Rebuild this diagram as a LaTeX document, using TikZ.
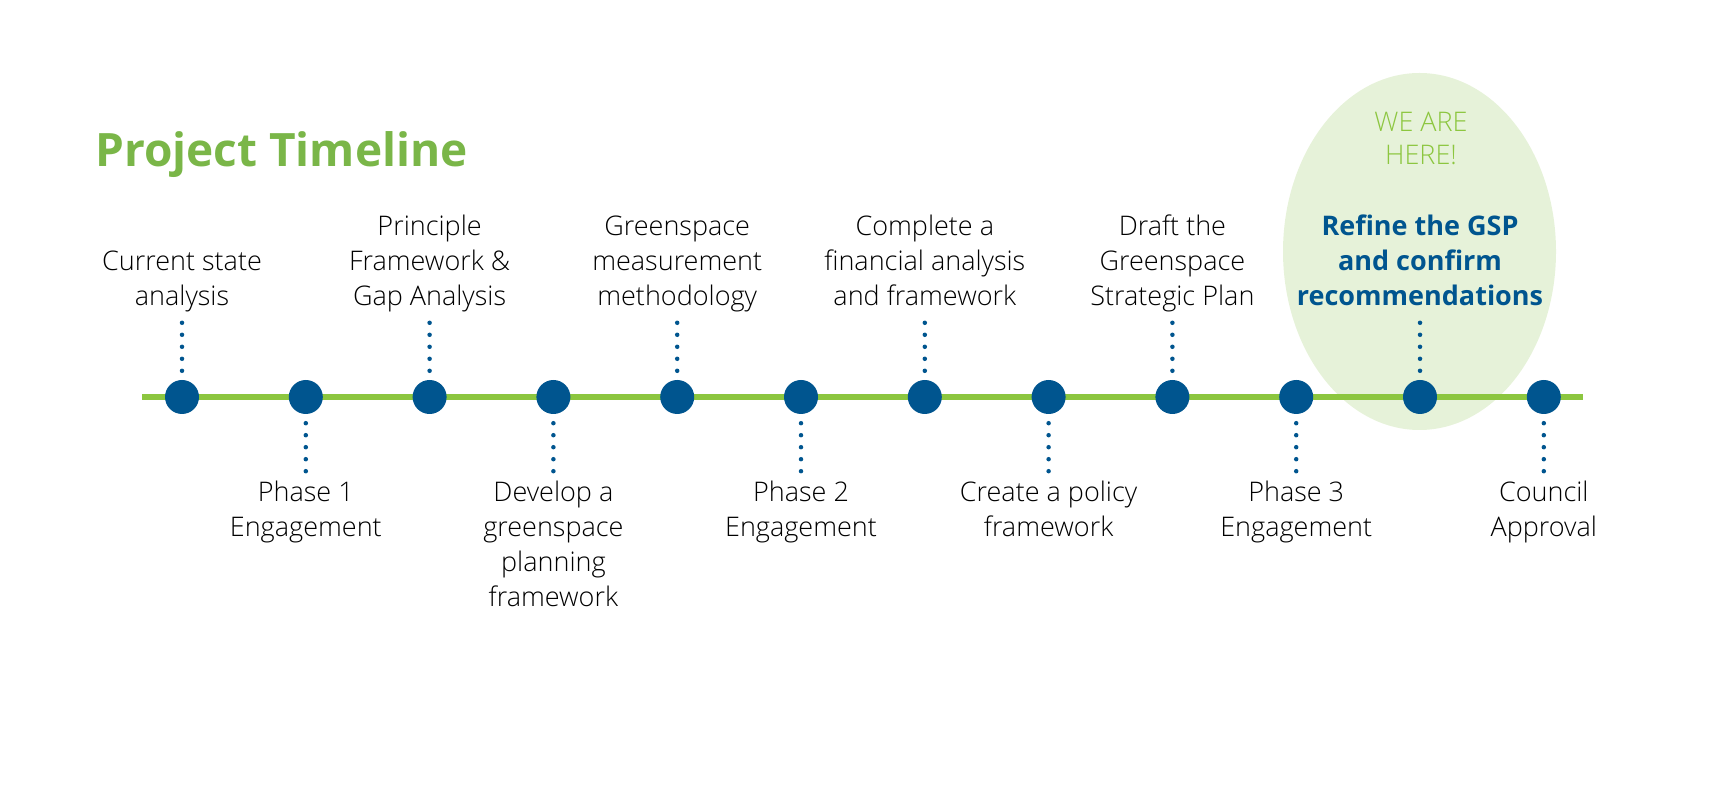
\documentclass[tikz,border=0pt]{standalone}
\usepackage{fontspec}
\setmainfont{Open Sans}[UprightFont={* Light},BoldFont={* Bold}]
\usetikzlibrary{positioning,shapes.geometric}

\definecolor{leafgreen}{HTML}{7AB648}
\definecolor{linegreen}{HTML}{8CC63F}
\definecolor{palegreen}{HTML}{E6F2D9}
\definecolor{navy}{HTML}{00558F}

\begin{document}
\begin{tikzpicture}[
  x=1pt, y=1pt,
  node distance=89.4pt,
  milestone/.style={circle, fill=navy, minimum size=34pt, inner sep=0pt},
  stage/.style={align=center, inner sep=0pt, font=\fontsize{27}{35}\selectfont},
  upper/.style={stage, text depth=7pt},
  current/.style={upper, text=navy, font=\fontsize{27}{35}\selectfont\bfseries},
  leader/.style={navy, line width=4.5pt, line cap=round,
                 dash pattern=on 0pt off 12pt, shorten <=10pt, shorten >=7pt},
  track/.style={linegreen, line width=5.5pt}
]
  \useasboundingbox (0,0) rectangle (1728,792);

  \node[ellipse, fill=palegreen, minimum width=273pt, minimum height=357pt] (bubble) at (1419.5,540.5) {};
  \node[text=linegreen, align=center, font=\fontsize{27}{33}\selectfont] (here) at (1421,654) {WE ARE\\HERE!};
  \node[anchor=base west, inner sep=0pt, text=leafgreen, font=\fontsize{46}{55}\selectfont\bfseries] (title) at (95,625) {Project Timeline};

  \coordinate (start) at (142,395);
  \coordinate (end) at (1583,395);
  \draw[track] (start) -- (end);

  \node[milestone] (d1) at (182,395) {};
  \node[milestone, right=of d1] (d2) {};
  \node[milestone, right=of d2] (d3) {};
  \node[milestone, right=of d3] (d4) {};
  \node[milestone, right=of d4] (d5) {};
  \node[milestone, right=of d5] (d6) {};
  \node[milestone, right=of d6] (d7) {};
  \node[milestone, right=of d7] (d8) {};
  \node[milestone, right=of d8] (d9) {};
  \node[milestone, right=of d9] (d10) {};
  \node[milestone, right=of d10] (d11) {};
  \node[milestone, right=of d11] (d12) {};

  \node[upper, above=67pt of d1] (current) {Current state\\analysis};
  \node[stage, below=67pt of d2] (phase1) {Phase 1\\Engagement};
  \node[upper, above=67pt of d3] (principle) {Principle\\Framework \&\\Gap Analysis};
  \node[stage, below=67pt of d4] (develop) {Develop a\\greenspace\\planning\\framework};
  \node[upper, above=67pt of d5] (measure) {Greenspace\\measurement\\methodology};
  \node[stage, below=67pt of d6] (phase2) {Phase 2\\Engagement};
  \node[upper, above=67pt of d7] (finance) {Complete a\\financial analysis\\and framework};
  \node[stage, below=67pt of d8] (policy) {Create a policy\\framework};
  \node[upper, above=67pt of d9] (draft) {Draft the\\Greenspace\\Strategic Plan};
  \node[stage, below=67pt of d10] (phase3) {Phase 3\\Engagement};
  \node[current, above=67pt of d11] (refine) {Refine the GSP\\and confirm\\recommendations};
  \node[stage, below=67pt of d12] (council) {Council\\Approval};

  \draw[leader] (current) -- (d1);
  \draw[leader] (phase1) -- (d2);
  \draw[leader] (principle) -- (d3);
  \draw[leader] (develop) -- (d4);
  \draw[leader] (measure) -- (d5);
  \draw[leader] (phase2) -- (d6);
  \draw[leader] (finance) -- (d7);
  \draw[leader] (policy) -- (d8);
  \draw[leader] (draft) -- (d9);
  \draw[leader] (phase3) -- (d10);
  \draw[leader] (refine) -- (d11);
  \draw[leader] (council) -- (d12);
\end{tikzpicture}
\end{document}
